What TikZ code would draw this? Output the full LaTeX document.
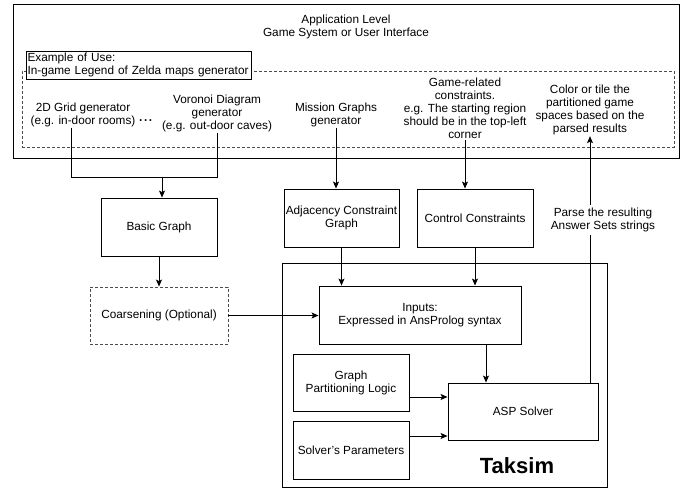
\documentclass[tikz,border=0pt]{standalone}
\usepackage{fontspec}
\setmainfont{Liberation Sans}
\usetikzlibrary{arrows.meta}
\newcommand\fs{\fontsize{11.8}{13}\selectfont}
\tikzset{
  box/.style={draw, line width=0.9pt, fill=white, inner sep=1pt, align=center, font=\fs},
  txt/.style={align=center, inner sep=1pt, font=\fs},
  arr/.style={line width=0.9pt, -{Stealth[length=7pt,width=6pt,inset=1.5pt]}},
  ln/.style={line width=0.9pt},
  dbox/.style={draw=black!70, dash pattern=on 3pt off 2pt, line width=0.9pt},
}
\begin{document}
\begin{tikzpicture}[x=1pt,y=-1pt]
\useasboundingbox (0,0) rectangle (697,489);
% application level
\node[draw, line width=0.9pt, minimum width=666pt, minimum height=154pt, inner sep=0pt] (app) at (346,81) {};
\node[txt] (title) at (346,26.5) {Application Level\\Game System or User Interface};
\node[dbox, minimum width=652pt, minimum height=76pt, inner sep=0pt] (dash) at (348,109) {};
\node[box, minimum width=225pt, minimum height=28pt, text width=222pt, align=left, inner sep=1.5pt] (example) at (138.5,65) {Example of Use:\\In-game Legend of Zelda maps generator};
\node[txt] (g2d) at (83,114.5) {2D Grid generator\\(e.g. in-door rooms)};
\node[inner sep=0pt, font=\bfseries\fs] (dots) at (146,122) {·\kern1pt·\kern1pt·};
\node[txt] (vor) at (217,113.5) {Voronoi Diagram\\generator\\(e.g. out-door caves)};
\node[txt] (mis) at (336,114.5) {Mission Graphs\\generator};
\node[txt] (game) at (465,108) {Game-related\\constraints.\\e.g. The starting region\\should be in the top-left\\corner};
\node[txt] (color) at (590,110) {Color or tile the\\partitioned game\\spaces based on the\\parsed results};
% boxes
\node[box, minimum width=116pt, minimum height=58pt] (basic) at (159,227) {Basic Graph};
\node[box, dbox, minimum width=138pt, minimum height=57pt] (coars) at (159,315.5) {Coarsening (Optional)};
\node[box, minimum width=115pt, minimum height=58pt] (adj) at (341.5,218) {Adjacency Constraint\\Graph};
\node[box, minimum width=116pt, minimum height=58pt] (ctrl) at (475,218) {Control Constraints};
\node[draw, line width=0.9pt, minimum width=325pt, minimum height=224pt, inner sep=0pt] (taksim) at (444.5,375) {};
\node[box, minimum width=202pt, minimum height=58pt] (inputs) at (420,315) {Inputs:\\Expressed in AnsProlog syntax};
\node[box, minimum width=116pt, minimum height=57pt] (gpl) at (351,382.5) {Graph\\Partitioning Logic};
\node[box, minimum width=116pt, minimum height=58pt] (sp) at (351,450) {Solver's Parameters};
\node[box, minimum width=150pt, minimum height=57pt] (asp) at (523,411.5) {ASP Solver};
\node[inner sep=0pt, font=\fontsize{22}{26}\selectfont\bfseries] (tlabel) at (517,466) {Taksim};
% connectors
\coordinate (j1) at (71,177);
\coordinate (j2) at (217,177);
\coordinate (jm) at (162,177);
\draw[ln] (g2d.south -| j1) -- (j1) -- (j2) -- (vor.south);
\draw[arr] (jm) -- (jm |- basic.north);
\draw[arr] (basic) -- (coars);
\draw[arr] (mis.south) -- (mis.south |- adj.north);
\draw[arr] (game.south) -- (game.south |- ctrl.north);
\draw[arr] (adj.south) -- (adj.south |- inputs.north);
\draw[arr] (ctrl.south) -- (ctrl.south |- inputs.north);
\draw[arr] (coars.east) -- (coars.east -| inputs.west);
\coordinate (ia) at ([xshift=66pt]inputs.south);
\draw[arr] (ia) -- (ia |- asp.north);
\coordinate (g1) at ([yshift=-14.5pt]gpl.east);
\draw[arr] (g1) -- (g1 -| asp.west);
\coordinate (s1) at ([yshift=14pt]sp.east);
\draw[arr] (s1) -- (s1 -| asp.west);
\draw[arr] (color.south |- asp.north) -- (color.south);
\node[txt, fill=white, inner sep=3pt] (parse) at (603,220) {Parse the resulting\\Answer Sets strings};
\end{tikzpicture}
\end{document}
